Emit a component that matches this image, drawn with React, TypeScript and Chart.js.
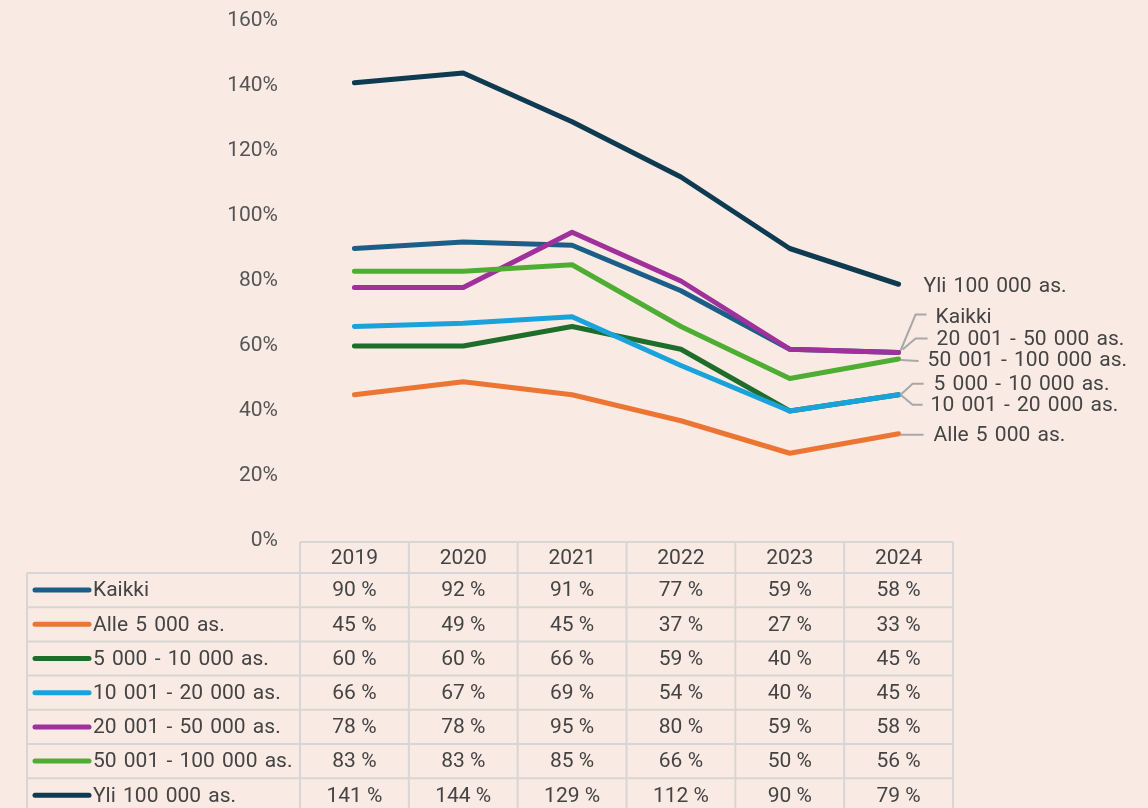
import React, { useEffect, useRef } from "react";
import { Chart, registerables } from "chart.js";

Chart.register(...registerables);

const YEARS = ["2019", "2020", "2021", "2022", "2023", "2024"];
const SERIES_NAMES = [
  "Kaikki",
  "Alle 5 000 as.",
  "5 000 - 10 000 as.",
  "10 001 - 20 000 as.",
  "20 001 - 50 000 as.",
  "50 001 - 100 000 as.",
  "Yli 100 000 as.",
];
const KAIKKI = [90, 92, 91, 77, 59, 58];
const ALLE_5000 = [45, 49, 45, 37, 27, 33];
const AS_5000_10000 = [60, 60, 66, 59, 40, 45];
const AS_10001_20000 = [66, 67, 69, 54, 40, 45];
const AS_20001_50000 = [78, 78, 95, 80, 59, 58];
const AS_50001_100000 = [83, 83, 85, 66, 50, 56];
const YLI_100000 = [141, 144, 129, 112, 90, 79];
const SERIES_VALUES = [KAIKKI, ALLE_5000, AS_5000_10000, AS_10001_20000, AS_20001_50000, AS_50001_100000, YLI_100000];
const SERIES_COLORS = ["#1B5F88", "#ED7534", "#1F6D2B", "#1AA2DB", "#A0309B", "#4EAE34", "#0E3B52"];
const Y_MIN = 0;
const Y_MAX = 160;
const Y_STEP = 20;

const BG = "#F9EAE3";
const TEXT = "#444444";
const FONT = "Roboto, 'Liberation Sans', sans-serif";

// end-label annotation layout (offsets relative to the last point of each series)
const END_LABELS = [
  { s: 6, leader: null, tx: 25, ty: 2 },
  { s: 0, leader: [[2, -2], [17, -38], [28, -38]], tx: 37, ty: -35 },
  { s: 4, leader: [[4, -3], [17, -14], [29, -14]], tx: 38, ty: -13 },
  { s: 5, leader: [[2, 1], [20, 2]], tx: 29, ty: 2 },
  { s: 2, leader: [[2, 0], [14, -11], [25, -11]], tx: 35, ty: -10 },
  { s: 3, leader: [[2, 0], [14, 10], [24, 10]], tx: 32, ty: 11 },
  { s: 1, leader: [[2, 1], [25, 1]], tx: 35, ty: 2 },
];

const tablePlugin = {
  id: "tablePlugin",
  afterDraw(chart: any) {
    const ctx = chart.ctx;
    const xs = chart.scales.x;
    const ys = chart.scales.y;
    const ca = chart.chartArea;
    const n = YEARS.length;
    const colW = (ca.right - ca.left) / n;
    const headTop = ys.getPixelForValue(0) + 1;
    const headBottom = headTop + 31;
    const rowH = 34.2;
    const leftEdge = 27;
    const bottom = chart.height + 5;

    ctx.save();
    ctx.strokeStyle = "#D8D6D4";
    ctx.lineWidth = 2;
    ctx.beginPath();
    ctx.moveTo(ca.left, headTop);
    ctx.lineTo(ca.right, headTop);
    for (let i = 0; i <= n; i++) {
      const bx = ca.left + i * colW;
      ctx.moveTo(bx, headTop);
      ctx.lineTo(bx, bottom);
    }
    ctx.moveTo(leftEdge, headBottom);
    ctx.lineTo(leftEdge, bottom);
    for (let r = 0; r <= SERIES_NAMES.length; r++) {
      const ry = headBottom + r * rowH;
      ctx.moveTo(leftEdge, ry);
      ctx.lineTo(ca.right, ry);
    }
    ctx.stroke();

    ctx.font = `21px ${FONT}`;
    ctx.fillStyle = TEXT;
    ctx.textBaseline = "middle";
    ctx.textAlign = "center";
    (ctx as any).wordSpacing = "1px";
    YEARS.forEach((yr, i) => {
      ctx.fillText(yr, xs.getPixelForValue(i), (headTop + headBottom) / 2 + 1);
    });
    SERIES_NAMES.forEach((name, s) => {
      const cy = headBottom + s * rowH + rowH / 2 + 1;
      ctx.strokeStyle = SERIES_COLORS[s];
      ctx.lineWidth = 5;
      ctx.lineCap = "round";
      ctx.beginPath();
      ctx.moveTo(35, cy - 1);
      ctx.lineTo(89, cy - 1);
      ctx.stroke();
      ctx.textAlign = "left";
      (ctx as any).wordSpacing = "2px";
      ctx.fillText(name, 93, cy);
      ctx.textAlign = "center";
      (ctx as any).wordSpacing = "0px";
      SERIES_VALUES[s].forEach((v, i) => {
        ctx.fillText(`${v} %`, xs.getPixelForValue(i), cy);
      });
    });

    // end labels
    ctx.textAlign = "left";
    (ctx as any).wordSpacing = "2px";
    END_LABELS.forEach((lab) => {
      const vals = SERIES_VALUES[lab.s];
      const px = xs.getPixelForValue(vals.length - 1);
      const py = ys.getPixelForValue(vals[vals.length - 1]);
      if (lab.leader) {
        ctx.strokeStyle = "#A8A8A8";
        ctx.lineWidth = 2;
        ctx.lineCap = "butt";
        ctx.beginPath();
        lab.leader.forEach(([dx, dy], k) => {
          if (k === 0) ctx.moveTo(px + dx, py + dy);
          else ctx.lineTo(px + dx, py + dy);
        });
        ctx.stroke();
      }
      ctx.fillStyle = TEXT;
      ctx.fillText(SERIES_NAMES[lab.s], px + lab.tx, py + lab.ty);
    });
    ctx.restore();
  },
};

export default function App() {
  const ref = useRef<HTMLCanvasElement | null>(null);
  useEffect(() => {
    if (!ref.current) return;
    const chart = new Chart(ref.current, {
      type: "line",
      data: {
        labels: YEARS,
        datasets: SERIES_NAMES.map((name, i) => ({
          label: name,
          data: SERIES_VALUES[i],
          borderColor: SERIES_COLORS[i],
          backgroundColor: SERIES_COLORS[i],
          borderWidth: 5,
          borderCapStyle: "round" as const,
          borderJoinStyle: "round" as const,
          pointRadius: 0,
          tension: 0,
          order: SERIES_NAMES.length - 1 - i,
        })),
      },
      options: {
        responsive: false,
        animation: false,
        layout: { autoPadding: false, padding: { left: 0, right: 195, top: 21, bottom: 267 } },
        plugins: { legend: { display: false }, tooltip: { enabled: false } },
        scales: {
          x: { type: "category", offset: true, display: false },
          y: {
            min: Y_MIN,
            max: Y_MAX,
            afterFit: (s: any) => {
              s.width = 300;
              s.paddingTop = 0;
              s.paddingBottom = 0;
            },
            ticks: {
              stepSize: Y_STEP,
              padding: 22,
              color: "#555555",
              font: { family: FONT, size: 21 },
              callback: (v: any) => `${v}%`,
            },
            grid: { display: false, drawTicks: false },
            border: { display: false },
          },
        },
      },
      plugins: [tablePlugin],
    });
    return () => chart.destroy();
  }, []);
  return (
    <div style={{ position: "absolute", left: 0, top: 0, width: 1148, height: 808, background: BG, overflow: "hidden" }}>
      <canvas ref={ref} width={1148} height={808} style={{ display: "block" }} />
    </div>
  );
}
